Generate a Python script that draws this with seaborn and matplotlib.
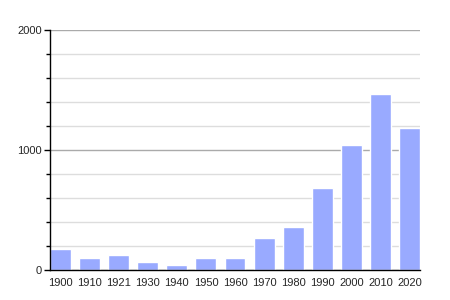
import matplotlib
matplotlib.use("Agg")
import matplotlib.pyplot as plt
import seaborn as sns
from matplotlib.ticker import MultipleLocator

years = ["1900", "1910", "1921", "1930", "1940", "1950", "1960",
         "1970", "1980", "1990", "2000", "2010", "2020"]
population = [175, 100, 125, 67, 42, 100, 100, 267, 358, 683, 1042, 1467, 1186]

sns.set_style("white")
plt.rcParams['font.family'] = ['Liberation Sans', 'DejaVu Sans']

fig = plt.figure(figsize=(4.5, 3), dpi=100)
ax = fig.add_axes([50/450, 30/300, 370/450, 240/300])

sns.barplot(x=years, y=population, order=years, color="#99aaff",
            saturation=1, width=0.72, ax=ax, zorder=3)

w = 0.72
ax.set_xlim(-w/2, len(years) - 1 + w/2)
ax.set_ylim(0, 2000)
ax.yaxis.set_major_locator(MultipleLocator(1000))
ax.yaxis.set_minor_locator(MultipleLocator(200))
ax.grid(which="major", axis="y", color="#aaaaaa", linewidth=1, zorder=0)
ax.grid(which="minor", axis="y", color="#dddddd", linewidth=1, zorder=0)
ax.set_axisbelow(True)

for s in ["top", "right"]:
    ax.spines[s].set_visible(False)
for s in ["left", "bottom"]:
    ax.spines[s].set_color("black")
    ax.spines[s].set_linewidth(1)
    ax.spines[s].set_zorder(4)

ax.tick_params(axis="y", which="major", left=True, length=4, width=1,
               color="black", labelsize=8, pad=2)
ax.tick_params(axis="y", which="minor", left=True, length=3, width=1, color="black")
ax.tick_params(axis="x", bottom=False, labelsize=8, pad=2)
ax.set_xlabel("")
ax.set_ylabel("")

fig.savefig("out.png", dpi=100)
